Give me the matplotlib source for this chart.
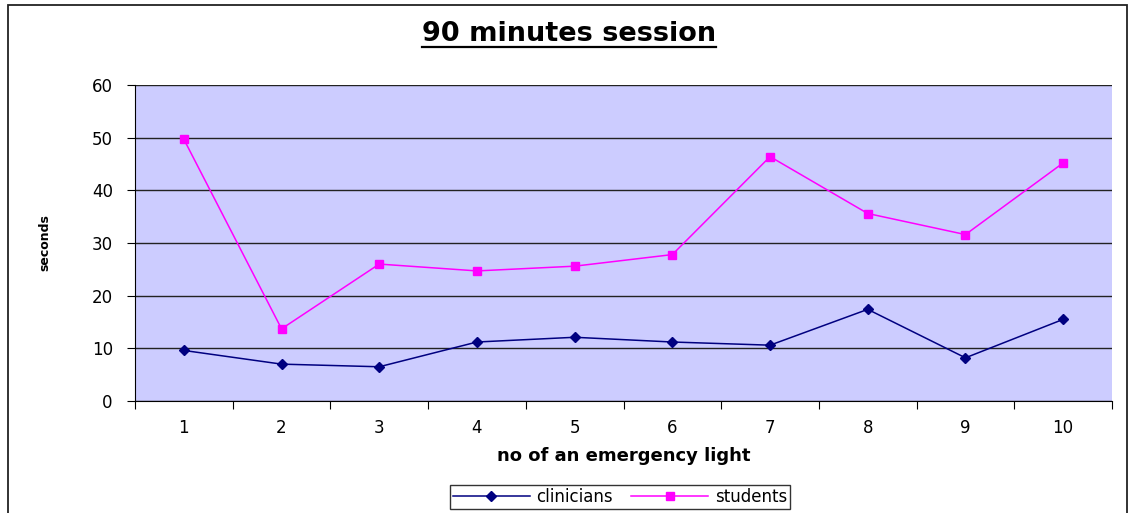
import matplotlib
matplotlib.use("Agg")
from matplotlib import pyplot as plt
from matplotlib.patches import Rectangle

# data
lights = [1, 2, 3, 4, 5, 6, 7, 8, 9, 10]
clinicians = [9.6, 7.0, 6.5, 11.2, 12.1, 11.2, 10.6, 17.4, 8.2, 15.5]
students = [49.7, 13.7, 26.0, 24.7, 25.6, 27.8, 46.4, 35.6, 31.6, 45.2]
yticks = [0, 10, 20, 30, 40, 50, 60]

# wide sans font, closer to the stretched look of the original
plt.rcParams['font.family'] = ['DejaVu Sans']

W, H = 1133, 513
fig = plt.figure(figsize=(W / 100, H / 100), dpi=100)
ax = fig.add_axes([135 / W, 1 - 401 / H, (1112 - 135) / W, (401 - 85) / H])

# outer chart border (bottom edge runs off the image)
fig.patches.append(Rectangle((8 / W, -0.1), (1127 - 8) / W, 1.1 - 5 / H,
                             transform=fig.transFigure, fill=False,
                             edgecolor='#222222', linewidth=1.3))

ax.set_facecolor('#CCCCFF')
ax.plot(lights, clinicians, color='#000080', marker='D', markersize=5,
        linewidth=1.1, label='clinicians')
ax.plot(lights, students, color='#FF00FF', marker='s', markersize=6,
        linewidth=1.1, label='students')

ax.set_xlim(0.5, 10.5)
ax.set_ylim(0, 60)
ax.set_yticks(yticks)
ax.set_yticklabels([str(v) for v in yticks], fontsize=12)
ax.yaxis.grid(True, color='#222222', linewidth=1)
ax.set_axisbelow(True)

# category ticks sit between the labels
ax.set_xticks([x + 0.5 for x in [0] + lights])
ax.set_xticklabels([])
ax.set_xticks(lights, minor=True)
ax.set_xticklabels([str(v) for v in lights], minor=True, fontsize=12)
ax.tick_params(axis='x', which='minor', length=0, pad=13)
ax.tick_params(axis='x', which='major', length=6, direction='out')
ax.tick_params(axis='y', length=6, direction='out', pad=10)

for s in ['top', 'right']:
    ax.spines[s].set_visible(False)

ax.set_xlabel('no of an emergency light', fontsize=13, fontweight='bold', labelpad=7)
ax.set_ylabel('seconds', fontsize=9, fontweight='bold')
ax.yaxis.set_label_coords((51 - 135) / (1112 - 135), 0.5)

title = fig.text(569 / W, 1 - 34 / H, '90 minutes session', ha='center',
                 va='center', fontsize=19.5, fontweight='bold')

leg = ax.legend(loc='center', bbox_to_anchor=(620 / W, 1 - 497 / H),
                bbox_transform=fig.transFigure, ncol=2, fontsize=12,
                frameon=True, fancybox=False, edgecolor='black',
                borderpad=0.2, handlelength=4.6, columnspacing=1.1,
                handletextpad=0.4)
leg.get_frame().set_linewidth(1)

# underline the title, matching the text width
fig.canvas.draw()
bb = title.get_window_extent()
fig.add_artist(plt.Line2D([bb.x0 / W, bb.x1 / W], [1 - 46.5 / H, 1 - 46.5 / H],
                          color='black', linewidth=1.6))

fig.savefig('out.png', dpi=100)
